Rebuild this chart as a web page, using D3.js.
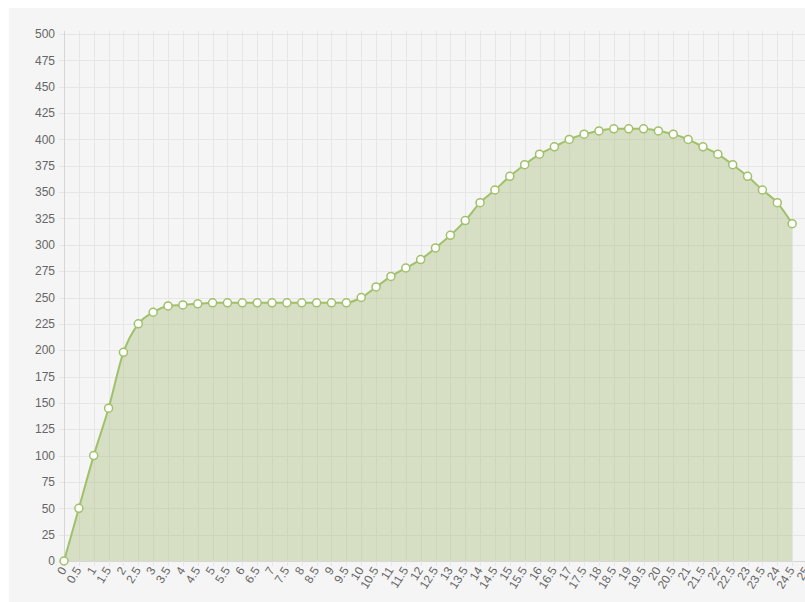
<!DOCTYPE html>
<html>
<head>
<meta charset="utf-8">
<script src="https://cdn.jsdelivr.net/npm/d3@7/dist/d3.min.js"></script>
<style>
  html, body { margin: 0; padding: 0; background: #ffffff; }
  svg { display: block; }
  text { font-family: "Liberation Sans", Arial, Helvetica, sans-serif; }
</style>
</head>
<body>
<svg id="chart" width="805" height="602"></svg>
<script>
// ---- data ----
const categories = d3.range(0, 51).map(i => i * 0.5);           // 0 .. 25
const categoryLabels = categories.map(v => String(v));
const seriesValues = [0, 50, 100, 145, 198, 225, 236, 242, 243, 244,
  245, 245, 245, 245, 245, 245, 245, 245, 245, 245,
  250, 260, 270, 278, 286, 297, 309, 323, 340, 352,
  365, 376, 386, 393, 400, 405, 408, 410, 410, 410,
  408, 405, 400, 393, 386, 376, 365, 352, 340, 320];
const yTicks = d3.range(0, 501, 25);

// ---- layout ----
const svg = d3.select("#chart");
const W = 805, H = 602;
const mLeft = 64, mTop = 34, mBottom = 561;
const step = 14.86;

svg.append("rect").attr("x", 9).attr("y", 8).attr("width", W - 9).attr("height", H - 8)
  .attr("fill", "#f5f5f5");

const x = d3.scalePoint().domain(d3.range(categories.length)).range([mLeft, mLeft + step * (categories.length - 1)]);
const y = d3.scaleLinear().domain([0, 500]).range([mBottom, mTop]);

// horizontal grid
svg.append("g").selectAll("line").data(yTicks).join("line")
  .attr("x1", mLeft - 5).attr("x2", W)
  .attr("y1", d => Math.round(y(d)) + 0.5).attr("y2", d => Math.round(y(d)) + 0.5)
  .attr("stroke", d => d === 0 ? "#d6d6d6" : "#e6e6e6").attr("stroke-width", 1);

// vertical grid
svg.append("g").selectAll("line").data(d3.range(categories.length)).join("line")
  .attr("x1", d => Math.round(x(d)) + 0.5).attr("x2", d => Math.round(x(d)) + 0.5)
  .attr("y1", mTop - 3).attr("y2", mBottom + 5)
  .attr("stroke", d => d === 0 ? "#d6d6d6" : "#e6e6e6").attr("stroke-width", 1);

// y labels
svg.append("g").selectAll("text").data(yTicks).join("text")
  .attr("x", mLeft - 9).attr("y", d => y(d)).attr("dy", "0.35em")
  .attr("text-anchor", "end").attr("font-size", 12).attr("fill", "#666")
  .text(d => d);

// x labels (rotated)
svg.append("g").selectAll("text").data(categoryLabels).join("text")
  .attr("text-anchor", "end").attr("font-size", 12).attr("fill", "#666")
  .attr("transform", (d, i) => `translate(${x(i) + 3},${mBottom + 9}) rotate(-58)`)
  .text(d => d);

// area + line
const idx = d3.range(seriesValues.length);
const area = d3.area().x(i => x(i)).y0(y(0)).y1(i => y(seriesValues[i])).curve(d3.curveMonotoneX);
const line = d3.line().x(i => x(i)).y(i => y(seriesValues[i])).curve(d3.curveMonotoneX);

svg.append("path").datum(idx).attr("d", area).attr("fill", "rgba(160,186,110,0.36)");
svg.append("path").datum(idx).attr("d", line).attr("fill", "none")
  .attr("stroke", "#a1c06a").attr("stroke-width", 2);

svg.append("g").selectAll("circle").data(idx).join("circle")
  .attr("cx", i => x(i)).attr("cy", i => y(seriesValues[i])).attr("r", 4)
  .attr("fill", "#ffffff").attr("stroke", "#a1c06a").attr("stroke-width", 1.5);
</script>
</body>
</html>
